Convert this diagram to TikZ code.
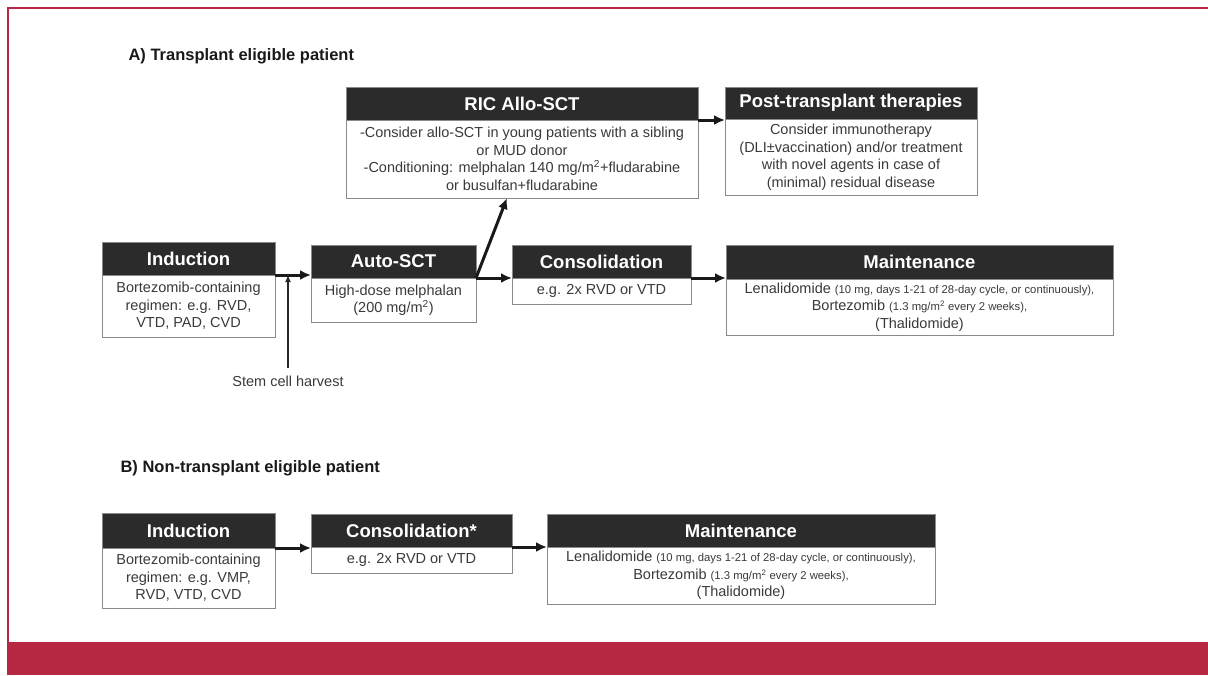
\documentclass[tikz,border=0pt]{standalone}
\usepackage{fontspec}
\setmainfont{Liberation Sans}
\usetikzlibrary{positioning,arrows.meta}
\definecolor{framered}{HTML}{B72843}
\definecolor{hdrfill}{HTML}{2B2B2B}
\definecolor{boxline}{HTML}{8A8A8A}
\definecolor{bodytext}{HTML}{3A3A3A}
\newcommand{\smalltxt}{\fontsize{11.3}{12}\selectfont}
\begin{document}
\begin{tikzpicture}[
        x=1pt, y=-1pt,
        hdr/.style={anchor=north west, fill=hdrfill, draw=boxline, line width=0.8pt, text=white, font=\fontsize{18.5}{20}\selectfont\bfseries, inner sep=0pt, outer sep=0pt},
        body/.style={fill=white, draw=boxline, line width=0.9pt, text=bodytext, align=center, font=\fontsize{14.5}{17.5}\selectfont, inner sep=0pt, outer sep=0pt},
        title/.style={anchor=west, text=black!90, font=\fontsize{16.5}{18}\selectfont\bfseries},
        flow/.style={line width=3pt, draw=black!90, -{Latex[length=11pt,width=10pt]}},
        thinflow/.style={line width=1.4pt, draw=black!85, -{Latex[length=7pt,width=6pt]}}
    ]
        \useasboundingbox (0,0) rectangle (1208,675);

        % frame
        \draw[framered, line width=2pt] (1208,8) -- (8,8) -- (8,642);
        \fill[framered] (7,642) rectangle (1208,675);

        % A) transplant eligible
        \node[title] (ttl_a) at (125,56) {A) Transplant eligible patient};

        \node[hdr, minimum width=173pt, minimum height=33pt] (ind_a) at (102,242) {Induction};
        \node[body, below=0pt of ind_a, minimum width=173pt, minimum height=62pt] (ind_a_b) {Bortezomib-containing\\regimen: e.g. RVD,\\VTD, PAD, CVD};

        \node[hdr, minimum width=165pt, minimum height=33pt] (auto) at (311,245) {Auto-SCT};
        \node[body, below=0pt of auto, minimum width=165pt, minimum height=44pt] (auto_b) {High-dose melphalan\\(200 mg/m\textsuperscript{2})};

        \node[hdr, minimum width=179pt, minimum height=33pt] (cons_a) at (512,245) {Consolidation};
        \node[body, below=0pt of cons_a, minimum width=179pt, minimum height=26pt] (cons_a_b) {e.g. 2x RVD or VTD};

        \node[hdr, minimum width=387pt, minimum height=34pt] (maint_a) at (726,245) {Maintenance};
        \node[body, below=0pt of maint_a, minimum width=387pt, minimum height=56pt] (maint_a_b) {Lenalidomide {\smalltxt (10 mg, days 1-21 of 28-day cycle, or continuously),}\\Bortezomib {\smalltxt (1.3 mg/m\textsuperscript{2} every 2 weeks),}\\(Thalidomide)};

        \node[hdr, minimum width=352pt, minimum height=33pt] (ric) at (346,87) {RIC Allo-SCT};
        \node[body, below=0pt of ric, minimum width=352pt, minimum height=78pt] (ric_b) {-Consider allo-SCT in young patients with a sibling\\or MUD donor\\-Conditioning: melphalan 140 mg/m\textsuperscript{2}+fludarabine\\or busulfan+fludarabine};

        \node[hdr, minimum width=252pt, minimum height=32pt] (post) at (725,87) {Post-transplant therapies};
        \node[body, below=0pt of post, minimum width=252pt, minimum height=76pt] (post_b) {Consider immunotherapy\\(DLI±vaccination) and/or treatment\\with novel agents in case of\\(minimal) residual disease};

        \node[font=\fontsize{14.5}{17}\selectfont, text=bodytext] (harvest) at (288,381) {Stem cell harvest};

        \draw[flow] (ind_a.south east) -- (ind_a.south east -| auto.west);
        \draw[thinflow] ([yshift=4pt]harvest.north) -- (harvest.north |- ind_a.south east);
        \draw[flow] (auto.south east) -- (auto.south east -| cons_a.west);
        \draw[flow] (auto.south east) -- ([xshift=-15pt]ric_b.south);
        \draw[flow] (cons_a.south east) -- (cons_a.south east -| maint_a.west);
        \draw[flow] (ric.south east) -- (ric.south east -| post.west);

        % B) non-transplant eligible
        \node[title] (ttl_b) at (117,468) {B) Non-transplant eligible patient};

        \node[hdr, minimum width=173pt, minimum height=35pt] (ind_b) at (102,513) {Induction};
        \node[body, below=0pt of ind_b, minimum width=173pt, minimum height=60pt] (ind_b_b) {Bortezomib-containing\\regimen: e.g. VMP,\\RVD, VTD, CVD};

        \node[hdr, minimum width=201pt, minimum height=33pt] (cons_b) at (311,514) {Consolidation*};
        \node[body, below=0pt of cons_b, minimum width=201pt, minimum height=26pt] (cons_b_b) {e.g. 2x RVD or VTD};

        \node[hdr, minimum width=388pt, minimum height=33pt] (maint_b) at (547,514) {Maintenance};
        \node[body, below=0pt of maint_b, minimum width=388pt, minimum height=57pt] (maint_b_b) {Lenalidomide {\smalltxt (10 mg, days 1-21 of 28-day cycle, or continuously),}\\Bortezomib {\smalltxt (1.3 mg/m\textsuperscript{2} every 2 weeks),}\\(Thalidomide)};

        \draw[flow] (ind_b.south east) -- (ind_b.south east -| cons_b.west);
        \draw[flow] (cons_b.south east) -- (cons_b.south east -| maint_b.west);
    \end{tikzpicture}
\end{document}
